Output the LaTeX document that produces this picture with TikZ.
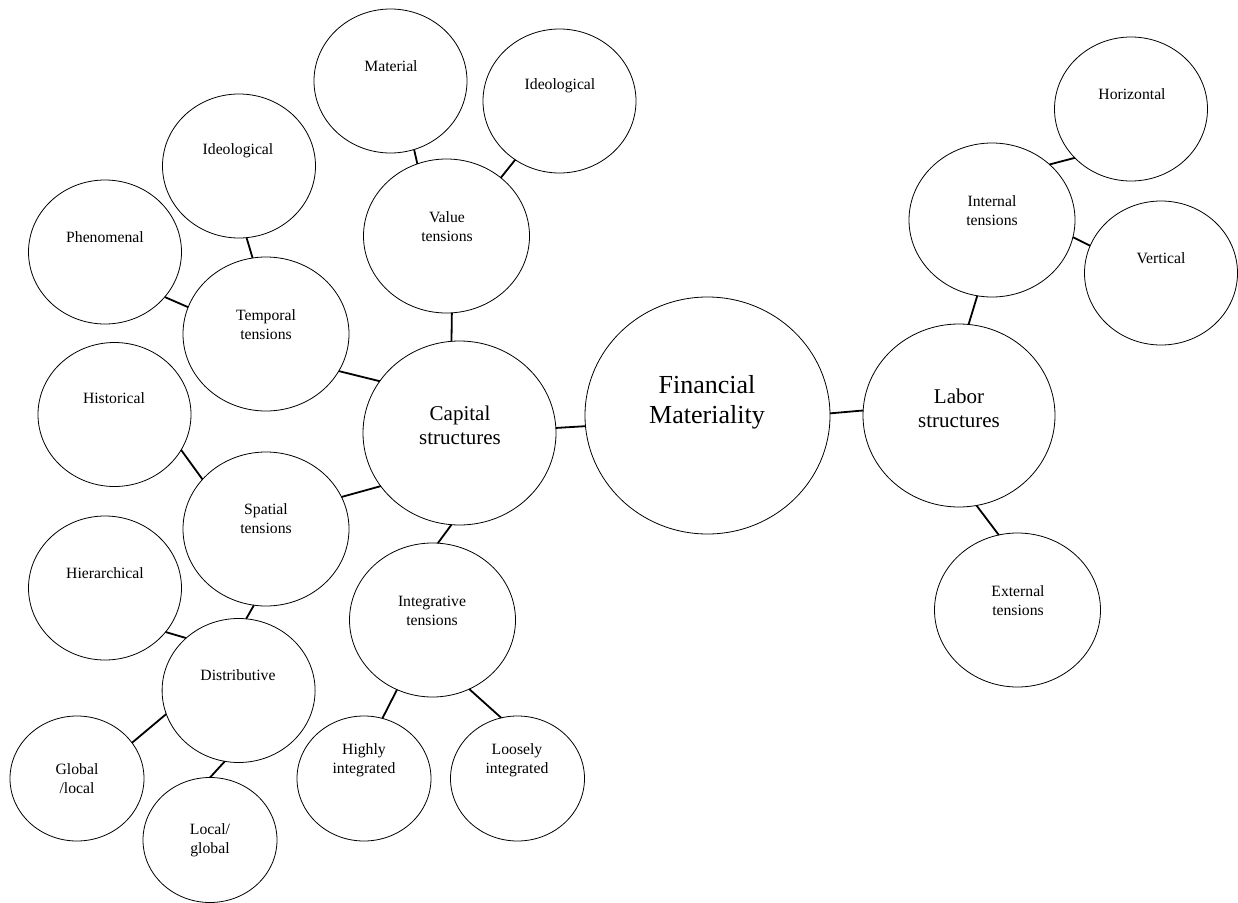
\documentclass[tikz,border=0pt]{standalone}
\usepackage{fontspec}
\setmainfont{Liberation Serif}
\usetikzlibrary{shapes.geometric}
\tikzset{
  bub/.style 2 args={ellipse, draw, line width=0.8bp, inner sep=0pt, outer sep=0pt,
    minimum width=#1, minimum height=#2},
  small/.style={bub={153bp}{144bp}},
  medium/.style={bub={166bp}{154bp}},
  tiny/.style={bub={134bp}{125bp}},
  lbl/.style={align=center, inner sep=0pt, font=\fontsize{15.7bp}{19bp}\selectfont},
  midlbl/.style={align=center, inner sep=0pt, font=\fontsize{21bp}{24bp}\selectfont},
  biglbl/.style={align=center, inner sep=0pt, font=\fontsize{26bp}{30bp}\selectfont},
  link/.style={line width=1.8bp}
}
\begin{document}
\begin{tikzpicture}[x=1bp,y=1bp]
\fill[white] (0,0) rectangle (1238,-903);
\useasboundingbox (0,0) rectangle (1238,-903);

% central bubbles
\node[bub={245bp}{237bp}] (fin) at (707.5,-415.5) {};
\node[biglbl] (fin-t) at (707,-402) {Financial\\Materiality};
\node[bub={193bp}{184bp}] (cap) at (459.5,-433) {};
\node[midlbl] (cap-t) at (460,-425) {Capital\\structures};
\node[bub={192bp}{183bp}] (lab) at (959,-415.5) {};
\node[midlbl] (lab-t) at (959,-408) {Labor\\structures};

% capital branch
\node[medium] (val) at (446.5,-236) {};
\node[lbl] (val-t) at (447,-226.5) {Value\\tensions};
\node[small] (mat) at (390.5,-81) {};
\node[lbl] (mat-t) at (391,-66) {Material};
\node[small] (ideoT) at (559.5,-101) {};
\node[lbl] (ideoT-t) at (560,-86) {Ideological};

\node[medium] (temp) at (266,-334) {};
\node[lbl] (temp-t) at (266,-324.5) {Temporal\\tensions};
\node[small] (ideoL) at (239,-166) {};
\node[lbl] (ideoL-t) at (238,-151) {Ideological};
\node[small] (phen) at (105,-252) {};
\node[lbl] (phen-t) at (105,-237) {Phenomenal};

\node[medium] (spat) at (266,-529) {};
\node[lbl] (spat-t) at (266,-518.5) {Spatial\\tensions};
\node[small] (hist) at (114.5,-414.5) {};
\node[lbl] (hist-t) at (114,-398) {Historical};
\node[small] (hier) at (105,-588) {};
\node[lbl] (hier-t) at (105,-573) {Hierarchical};
\node[small] (dist) at (238.6,-690.5) {};
\node[lbl] (dist-t) at (238,-675) {Distributive};
\node[tiny] (glob) at (77,-778.5) {};
\node[lbl] (glob-t) at (77,-778.5) {Global\\/local};
\node[tiny] (locg) at (210,-840) {};
\node[lbl] (locg-t) at (210,-840.5) {Local/\\global};

\node[medium] (integ) at (432.5,-620) {};
\node[lbl] (integ-t) at (432,-610.5) {Integrative\\tensions};
\node[tiny] (high) at (364,-778.5) {};
\node[lbl] (high-t) at (364,-760.5) {Highly\\integrated};
\node[tiny] (loose) at (517.5,-778.5) {};
\node[lbl] (loose-t) at (517,-760.5) {Loosely\\integrated};

% labor branch
\node[medium] (intl) at (992,-220) {};
\node[lbl] (intl-t) at (992,-210.5) {Internal\\tensions};
\node[small] (horz) at (1131,-109) {};
\node[lbl] (horz-t) at (1132,-94) {Horizontal};
\node[small] (vert) at (1161,-273) {};
\node[lbl] (vert-t) at (1161,-258) {Vertical};
\node[medium] (ext) at (1017.5,-610) {};
\node[lbl] (ext-t) at (1018,-601) {External\\tensions};

% connectors
\draw[link] (mat.-71) -- (val.112);
\draw[link] (ideoT.-127) -- (val.47);
\draw[link] (val.-86) -- (cap.95);
\draw[link] (ideoL.-84) -- (temp.100);
\draw[link] (phen.-37.5) -- (temp.161);
\draw[link] (temp.-27) -- (cap.147);
\draw[link] (hist.-28.4) -- (spat.142);
\draw[link] (spat.23) -- (cap.214);
\draw[link] (spat.-99.6) -- (dist.84);
\draw[link] (hier.-36.3) -- (dist.135);
\draw[link] (dist.198.4) -- (glob.33.8);
\draw[link] (dist.-101.2) -- (locg.90.4);
\draw[link] (cap.-95.3) -- (integ.86.7);
\draw[link] (integ.-117.9) -- (high.73.7);
\draw[link] (integ.-62.4) -- (loose.105.6);
\draw[link] (cap.3.6) -- (fin.185.5);
\draw[link] (fin.1.6) -- (lab.177.9);
\draw[link] (lab.84.4) -- (intl.-101);
\draw[link] (intl.44.5) -- (horz.-139.5);
\draw[link] (intl.-12.9) -- (vert.159.1);
\draw[link] (lab.-79.5) -- (ext.104.2);
\end{tikzpicture}
\end{document}
